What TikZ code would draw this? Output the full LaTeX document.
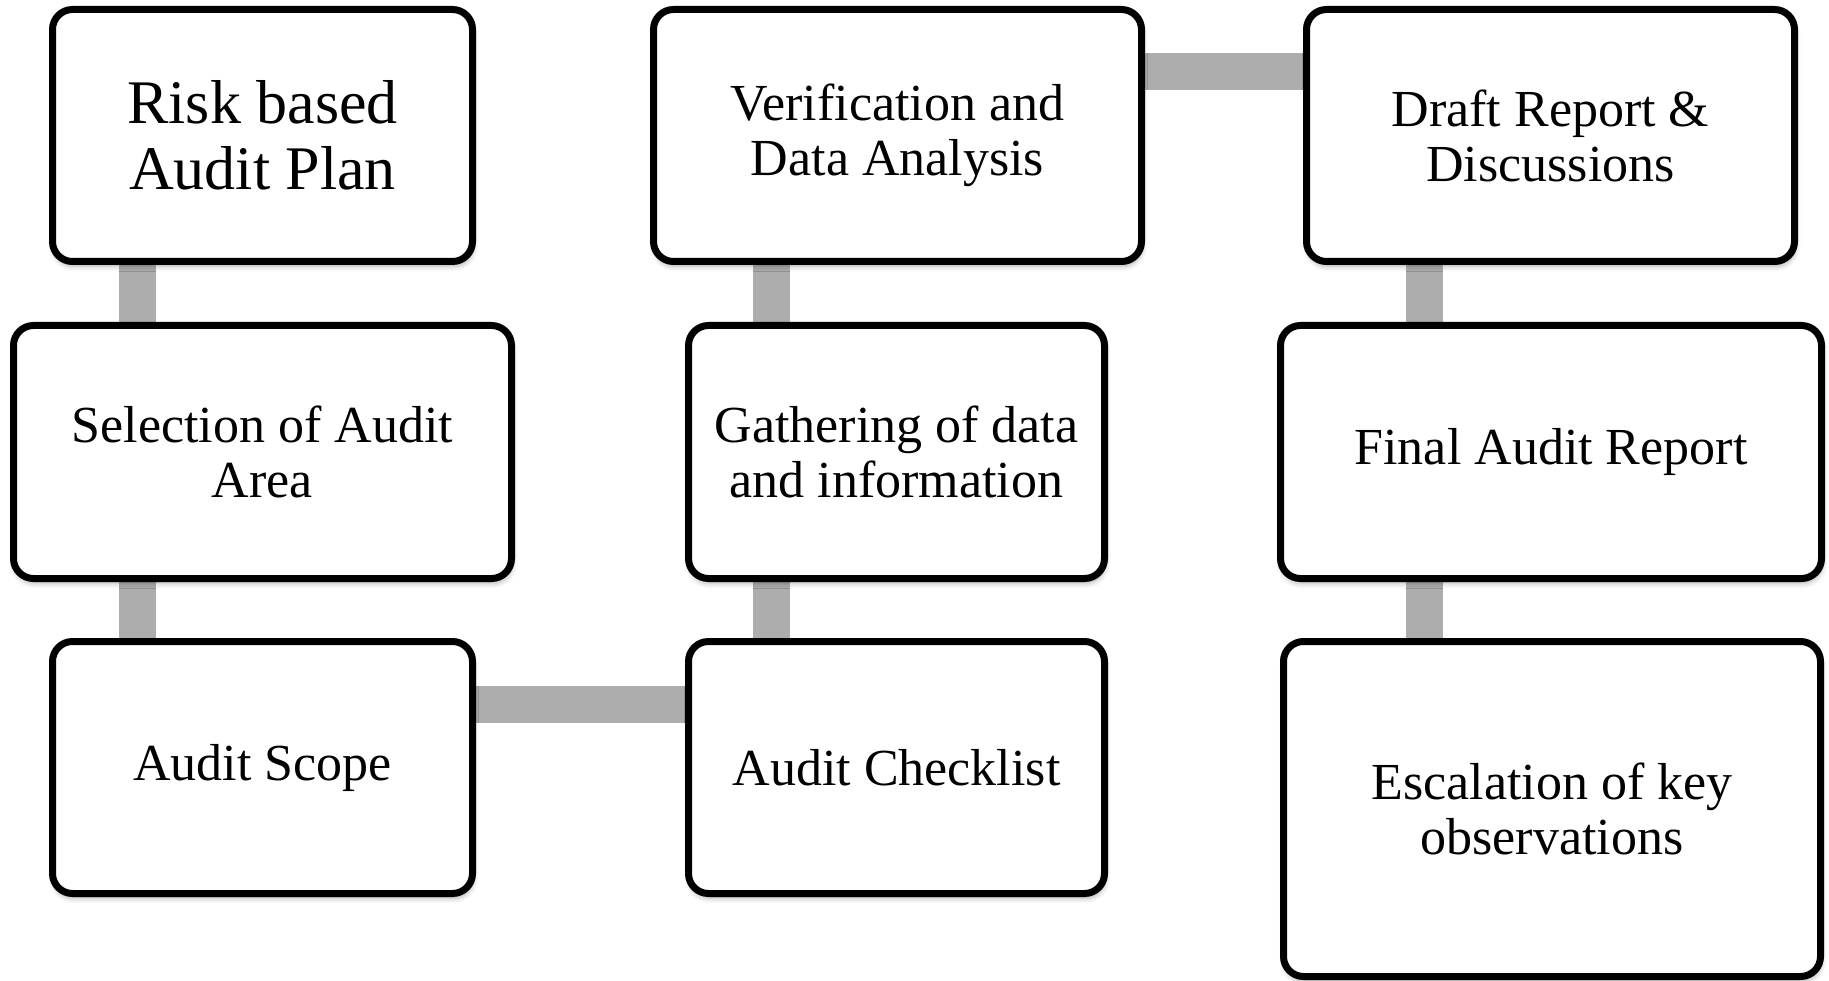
\documentclass[tikz,border=0pt]{standalone}
\usepackage{fontspec}
\setmainfont{Liberation Serif}
\usetikzlibrary{backgrounds,shadows.blur}
\definecolor{linkgray}{HTML}{ADADAD}
\begin{document}
\begin{tikzpicture}[x=1pt,y=-1pt,
  box/.style={draw=black, line width=7pt, rounded corners=20pt, fill=white,
    align=center, inner sep=0pt, font=\fontsize{52}{55}\selectfont,
    blur shadow={shadow xshift=1pt, shadow yshift=-5pt, shadow blur radius=5pt, shadow opacity=30}},
  conn/.style={draw=linkgray, line width=37pt}]
\useasboundingbox (0,0) rectangle (1829,981);

\node[box, minimum width=420pt, minimum height=252pt, font=\fontsize{62}{66}\selectfont] (b1) at (262.5,135.5) {Risk based\\Audit Plan};
\node[box, minimum width=498pt, minimum height=253pt] (b2) at (262.5,452) {Selection of Audit\\Area};
\node[box, minimum width=420pt, minimum height=252pt] (b3) at (262.5,767.5) {Audit Scope};
\node[box, minimum width=488pt, minimum height=252pt] (b4) at (897.5,135.5) {Verification and\\Data Analysis};
\node[box, minimum width=416pt, minimum height=253pt] (b5) at (896.5,452) {Gathering of data\\and information};
\node[box, minimum width=416pt, minimum height=252pt] (b6) at (896.5,767.5) {Audit Checklist};
\node[box, minimum width=488pt, minimum height=252pt] (b7) at (1550.5,135.5) {Draft Report \&\\Discussions};
\node[box, minimum width=541pt, minimum height=253pt] (b8) at (1551,452) {Final Audit Report};
\node[box, minimum width=537pt, minimum height=335pt] (b9) at (1552,809) {Escalation of key\\observations};

\coordinate (vl) at (137.5,0);
\coordinate (vc) at (771,0);
\coordinate (vr) at (1424.5,0);
\coordinate (hb) at (0,704);
\coordinate (ht) at (0,71.5);

\begin{scope}[on background layer]
  \draw[conn] (b1.south -| vl) -- (b2.north -| vl);
  \draw[conn] (b2.south -| vl) -- (b3.north -| vl);
  \draw[conn] (b3.east |- hb) -- (b6.west |- hb);
  \draw[conn] (b6.north -| vc) -- (b5.south -| vc);
  \draw[conn] (b5.north -| vc) -- (b4.south -| vc);
  \draw[conn] (b4.east |- ht) -- (b7.west |- ht);
  \draw[conn] (b7.south -| vr) -- (b8.north -| vr);
  \draw[conn] (b8.south -| vr) -- (b9.north -| vr);
\end{scope}
\end{tikzpicture}
\end{document}
